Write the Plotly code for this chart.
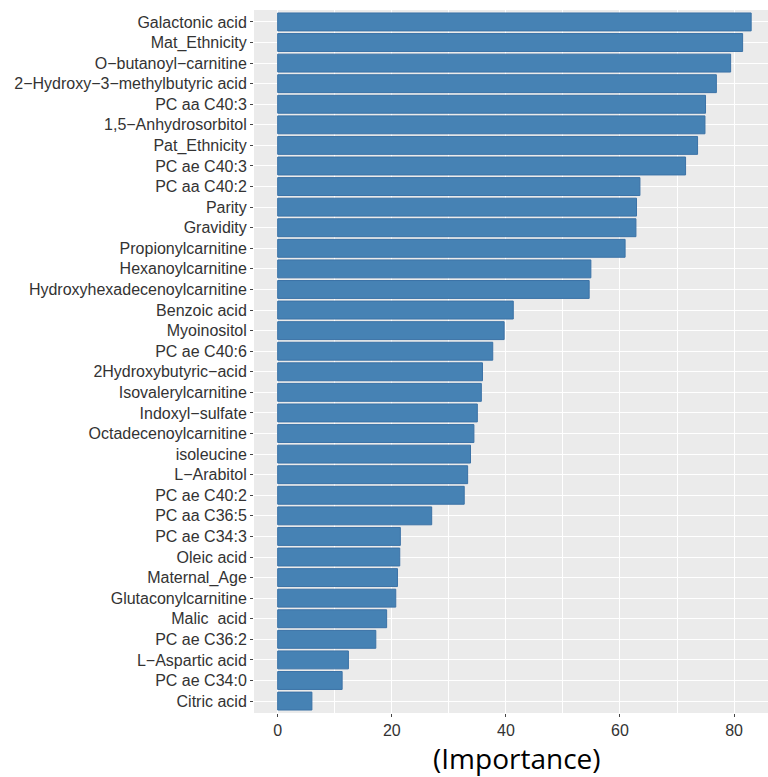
import plotly.graph_objects as go

# Features, listed from the top of the chart downward
features = [
    "Galactonic acid", "Mat_Ethnicity", "O−butanoyl−carnitine",
    "2−Hydroxy−3−methylbutyric acid", "PC aa C40:3", "1,5−Anhydrosorbitol",
    "Pat_Ethnicity", "PC ae C40:3", "PC aa C40:2", "Parity", "Gravidity",
    "Propionylcarnitine", "Hexanoylcarnitine", "Hydroxyhexadecenoylcarnitine",
    "Benzoic acid", "Myoinositol", "PC ae C40:6", "2Hydroxybutyric−acid",
    "Isovalerylcarnitine", "Indoxyl−sulfate", "Octadecenoylcarnitine",
    "isoleucine", "L−Arabitol", "PC ae C40:2", "PC aa C36:5", "PC ae C34:3",
    "Oleic acid", "Maternal_Age", "Glutaconylcarnitine", "Malic\u00a0 acid",
    "PC ae C36:2", "L−Aspartic acid", "PC ae C34:0", "Citric acid",
]

importance = [
    83.0, 81.5, 79.4, 76.9, 75.0, 74.9, 73.6, 71.5, 63.5, 62.9, 62.8,
    60.9, 54.9, 54.6, 41.3, 39.7, 37.7, 35.9, 35.7, 35.0, 34.4, 33.8,
    33.3, 32.7, 27.0, 21.5, 21.4, 21.0, 20.7, 19.1, 17.2, 12.4, 11.3, 6.0,
]

x_ticks = [0, 20, 40, 60, 80]

n = len(features)

fig = go.Figure(
    go.Bar(
        x=importance,
        y=features,
        orientation="h",
        marker=dict(color="#4682B4", line=dict(color="#3B72A6", width=1)),
        hoverinfo="x+y",
    )
)

fig.update_layout(
    width=768,
    height=777,
    margin=dict(l=254, r=0, t=10, b=64),
    paper_bgcolor="white",
    plot_bgcolor="#EBEBEB",
    bargap=0.13,
    showlegend=False,
    font=dict(family="Liberation Sans, Arial, sans-serif", size=16, color="#333333"),
)

fig.update_xaxes(
    range=[-4.15, 85.95],
    tickvals=x_ticks,
    ticktext=[str(v) for v in x_ticks],
    ticks="outside",
    ticklen=3,
    tickwidth=1,
    tickcolor="#444444",
    tickfont=dict(size=16, color="#333333"),
    showgrid=True,
    gridcolor="white",
    gridwidth=1.1,
    minor=dict(dtick=10, tick0=0, showgrid=True, gridcolor="white", gridwidth=0.5),
    zeroline=False,
    showline=False,
)

fig.update_yaxes(
    categoryorder="array",
    categoryarray=features,
    range=[n - 1 + 0.58, -0.58],
    ticks="outside",
    ticklen=3,
    tickwidth=1,
    tickcolor="#444444",
    tickfont=dict(size=16, color="#333333"),
    showgrid=True,
    gridcolor="white",
    gridwidth=1.1,
    zeroline=False,
    showline=False,
)

# Axis title, centred under the full panel width
fig.add_annotation(
    text="(Importance)",
    xref="paper",
    yref="paper",
    x=0.5117,
    y=-0.0635,
    xanchor="center",
    yanchor="middle",
    showarrow=False,
    font=dict(family="Open Sans, Noto Sans, sans-serif", size=28, color="black"),
)

fig.write_html("out.html")
